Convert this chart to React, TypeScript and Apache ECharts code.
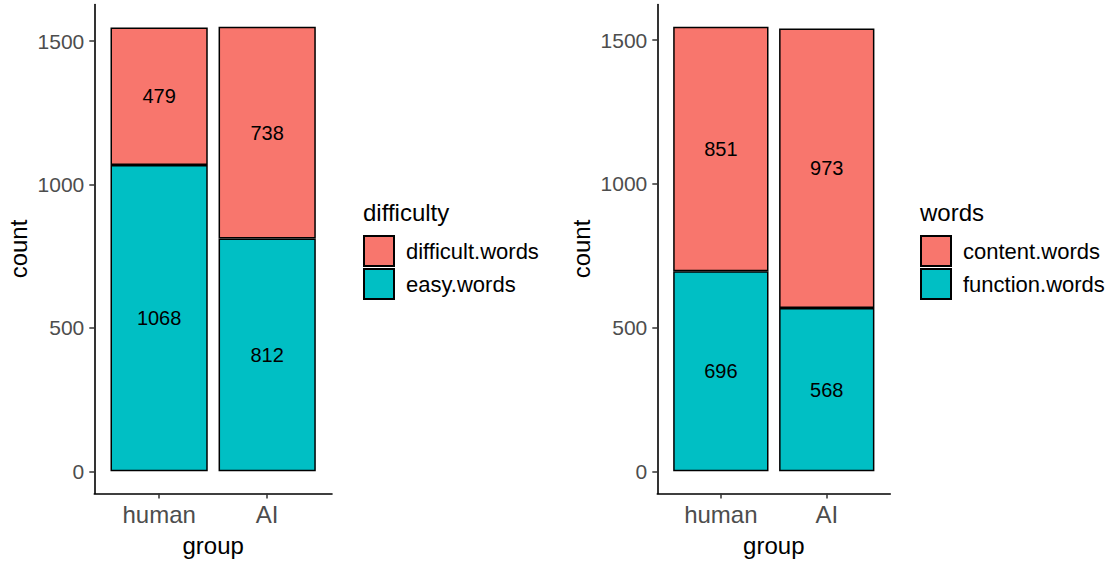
import React, { useEffect, useRef } from "react";
import * as echarts from "echarts";

const groups = ["human", "AI"];
const groupPos = [1, 2];
const difficultWords = [479, 738];
const easyWords = [1068, 812];
const contentWords = [851, 973];
const functionWords = [696, 568];
const yTicks = [0, 500, 1000, 1500];

const RED = "#F8766D";
const CYAN = "#00BFC4";
const FONT = "'Liberation Sans', Arial, sans-serif";

function yRange(a: number[], b: number[]) {
  const tot = Math.max(...a.map((v, i) => v + b[i]));
  const pad = tot * 0.05;
  return [-pad, tot + pad];
}

function barSeries(name: string, vals: number[], color: string, idx: number, stack: string) {
  return {
    type: "bar",
    name,
    stack,
    xAxisIndex: idx,
    yAxisIndex: idx,
    barWidth: "90%",
    // value first so that ECharts stacks on the count dimension
    data: vals.map((v, i) => [v, groupPos[i]]),
    encode: { x: 1, y: 0 },
    itemStyle: { color, borderColor: "#000", borderWidth: 1.5 },
    label: {
      show: true,
      position: "inside",
      color: "#000",
      fontSize: 20,
      fontFamily: FONT,
      formatter: (p: any) => String(p.value[0]),
    },
  };
}

export default function App() {
  const ref = useRef<HTMLDivElement>(null);
  useEffect(() => {
    const chart = echarts.init(ref.current!, null, { renderer: "svg" });
    const r1 = yRange(easyWords, difficultWords);
    const r2 = yRange(functionWords, contentWords);
    const xAxis = (left: boolean) => ({
      type: "value",
      gridIndex: left ? 0 : 1,
      min: 0.4,
      max: 2.6,
      splitLine: { show: false },
      axisLine: { show: true, onZero: false, lineStyle: { color: "#000", width: 1.6 } },
      axisTick: { show: true, customValues: groupPos, length: 5, lineStyle: { color: "#333", width: 1.5 } },
      axisLabel: {
        customValues: groupPos,
        formatter: (v: number) => groups[Math.round(v) - 1] ?? "",
        color: "#4D4D4D",
        fontSize: 24,
        fontFamily: FONT,
        margin: 9,
      },
      name: "group",
      nameLocation: "middle",
      nameGap: 40,
      nameTextStyle: { color: "#000", fontSize: 24, fontFamily: FONT },
    });
    const yAxis = (left: boolean, r: number[]) => ({
      type: "value",
      gridIndex: left ? 0 : 1,
      min: r[0],
      max: r[1],
      splitLine: { show: false },
      axisLine: { show: true, onZero: false, lineStyle: { color: "#000", width: 1.6 } },
      axisTick: { show: true, customValues: yTicks, length: 5, lineStyle: { color: "#333", width: 1.5 } },
      axisLabel: {
        customValues: yTicks,
        formatter: (v: number) => String(v),
        color: "#4D4D4D",
        fontSize: 21,
        fontFamily: FONT,
        margin: 10,
      },
      name: "count",
      nameLocation: "middle",
      nameGap: 64,
      nameRotate: 90,
      nameTextStyle: { color: "#000", fontSize: 24, fontFamily: FONT },
    });
    const legend = (left: number, data: string[]) => ({
      left,
      top: 235,
      padding: 0,
      orient: "vertical",
      itemWidth: 30,
      itemHeight: 30,
      itemGap: 1,
      icon: "rect",
      data,
      selectedMode: false,
      textStyle: { color: "#000", fontSize: 22, fontFamily: FONT, padding: [0, 0, 0, 7] },
    });
    chart.setOption({
      animation: false,
      backgroundColor: "#fff",
      title: [
        { text: "difficulty", left: 363, top: 200, padding: 0, textStyle: { color: "#000", fontSize: 24, fontWeight: "normal", fontFamily: FONT } },
        { text: "words", left: 920, top: 200, padding: 0, textStyle: { color: "#000", fontSize: 24, fontWeight: "normal", fontFamily: FONT } },
      ],
      legend: [legend(363, ["difficult.words", "easy.words"]), legend(920, ["content.words", "function.words"])],
      grid: [
        { left: 94.3, top: 4.5, width: 237.7, height: 489, outerBoundsMode: "none", containLabel: false },
        { left: 657.3, top: 4.5, width: 233, height: 489, outerBoundsMode: "none", containLabel: false },
      ],
      xAxis: [xAxis(true), xAxis(false)],
      yAxis: [yAxis(true, r1), yAxis(false, r2)],
      series: [
        barSeries("easy.words", easyWords, CYAN, 0, "a"),
        barSeries("difficult.words", difficultWords, RED, 0, "a"),
        barSeries("function.words", functionWords, CYAN, 1, "b"),
        barSeries("content.words", contentWords, RED, 1, "b"),
      ],
    });
    return () => chart.dispose();
  }, []);
  return (
    <div
      ref={ref}
      style={{ position: "fixed", left: 0, top: 0, width: 1106, height: 562, background: "#fff" }}
    />
  );
}
